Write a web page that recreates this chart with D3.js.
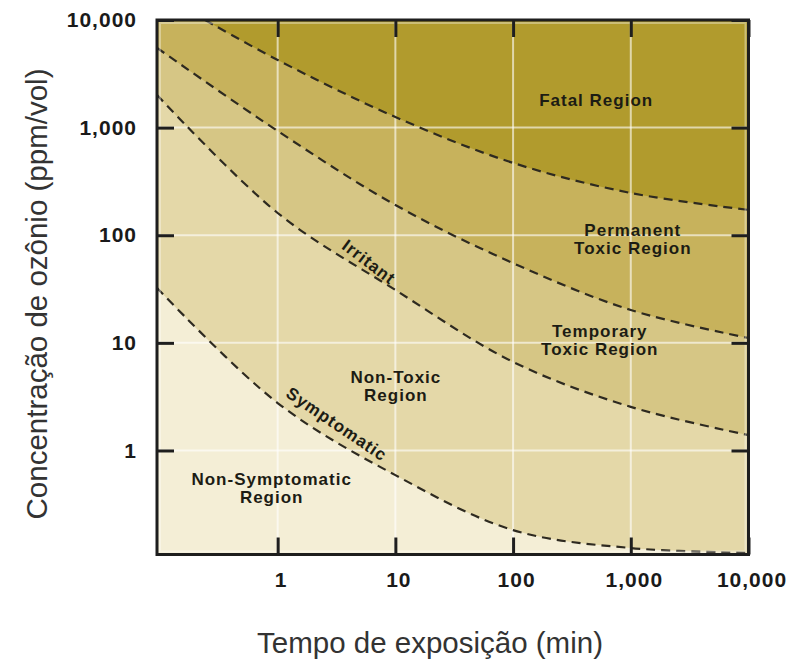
<!DOCTYPE html>
<html>
<head>
<meta charset="utf-8">
<script src="https://cdn.jsdelivr.net/npm/d3@7"></script>
<style>
  body { margin: 0; background: #fff; }
</style>
</head>
<body>
<svg id="chart" width="796" height="667"></svg>
<script>
// tick values (log decades)
const xTicks = [1, 10, 100, 1000, 10000];
const yTicks = [1, 10, 100, 1000, 10000];

// boundary curves: [minutes, ppm]
const fatalLine       = [[0.242, 10000], [1, 4250], [10, 1255], [100, 470], [1000, 247], [10000, 172]];
const permanentLine   = [[0.0944, 5510], [1, 930], [10, 191], [100, 55], [1000, 20.2], [10000, 11.1]];
const irritantLine    = [[0.0944, 2010], [1, 161], [10, 31], [100, 6.65], [1000, 2.54], [10000, 1.39]];
const symptomaticLine = [[0.0944, 32.4], [1, 2.76], [10, 0.59], [100, 0.182], [1000, 0.124], [10000, 0.112]];

// region names and where they sit (minutes, ppm)
const regionLabels = [
  { lines: ["Fatal Region"], t: 508, c: 1590 },
  { lines: ["Permanent", "Toxic Region"], t: 1040, c: 98 },
  { lines: ["Temporary", "Toxic Region"], t: 545, c: 11.4 },
  { lines: ["Non-Toxic", "Region"], t: 10.1, c: 4.24 },
  { lines: ["Non-Symptomatic", "Region"], t: 0.89, c: 0.477 }
];
const curveLabels = [
  { text: "Irritant", t: 5.96, c: 56.5, angle: 37 },
  { text: "Symptomatic", t: 3.18, c: 1.76, angle: 34 }
];

// fatal -> non symptomatic
const colors = ["#b19b2d", "#c7b25c", "#d6c685", "#e4d8a8", "#f4eed6"];

const svg = d3.select("#chart");

const x = d3.scaleLog().domain([0.0944, 10000]).range([157, 748.5]);
const y = d3.scaleLog().domain([0.108, 10000]).range([554.5, 20]);
const [x0, x1] = x.domain();
const [y0, y1] = y.domain();
const pLeft = x(x0), pRight = x(x1), pTop = y(y1), pBottom = y(y0);

svg.append("defs").append("clipPath").attr("id", "plot")
  .append("rect")
  .attr("x", pLeft).attr("y", pTop)
  .attr("width", pRight - pLeft).attr("height", pBottom - pTop);

const plot = svg.append("g").attr("clip-path", "url(#plot)");

plot.append("rect")
  .attr("x", pLeft).attr("y", pTop)
  .attr("width", pRight - pLeft).attr("height", pBottom - pTop)
  .attr("fill", colors[0]);

const line = d3.line()
  .x(d => x(d[0]))
  .y(d => y(d[1]))
  .curve(d3.curveCatmullRom.alpha(0.5));

const curves = [fatalLine, permanentLine, irritantLine, symptomaticLine];

// each area = everything under its curve
curves.forEach((c, i) => {
  let d = line(c);
  if (c[0][1] >= y1) d = `M${pLeft},${pTop}L` + d.slice(1);
  d += `L${pRight},${pBottom}L${pLeft},${pBottom}Z`;
  plot.append("path").attr("d", d).attr("fill", colors[i + 1]);
});

// white grid
plot.append("g")
  .selectAll("line")
  .data(xTicks)
  .join("line")
  .attr("x1", d => x(d)).attr("x2", d => x(d))
  .attr("y1", pTop).attr("y2", pBottom)
  .attr("stroke", "#fff").attr("stroke-opacity", 0.6).attr("stroke-width", 2);

plot.append("g")
  .selectAll("line")
  .data(yTicks)
  .join("line")
  .attr("y1", d => y(d)).attr("y2", d => y(d))
  .attr("x1", pLeft).attr("x2", pRight)
  .attr("stroke", "#fff").attr("stroke-opacity", 0.6).attr("stroke-width", 2);

// dashed boundaries
plot.append("g")
  .selectAll("path")
  .data(curves)
  .join("path")
  .attr("d", line)
  .attr("fill", "none")
  .attr("stroke", "#2e2a20")
  .attr("stroke-width", 2.2)
  .attr("stroke-dasharray", "9,6");

// light inner edge
svg.append("rect")
  .attr("x", pLeft + 3).attr("y", pTop + 3)
  .attr("width", pRight - pLeft - 6).attr("height", pBottom - pTop - 6)
  .attr("fill", "none")
  .attr("stroke", "#fff").attr("stroke-opacity", 0.35).attr("stroke-width", 2);

// region text
const labelFont = "'Liberation Sans', Arial, sans-serif";

svg.append("g")
  .selectAll("text")
  .data(regionLabels)
  .join("text")
  .attr("x", d => x(d.t))
  .attr("y", d => y(d.c))
  .attr("text-anchor", "middle")
  .attr("font-family", labelFont)
  .attr("font-weight", "bold")
  .attr("font-size", 17)
  .attr("letter-spacing", 1)
  .attr("fill", "#1c1c14")
  .selectAll("tspan")
  .data(d => d.lines.map(l => ({ l, t: d.t })))
  .join("tspan")
  .attr("x", d => x(d.t))
  .attr("dy", (d, i) => i === 0 ? 0 : 18)
  .text(d => d.l);

svg.append("g")
  .selectAll("text")
  .data(curveLabels)
  .join("text")
  .attr("transform", d => `translate(${x(d.t)},${y(d.c)}) rotate(${d.angle})`)
  .attr("text-anchor", "middle")
  .attr("dy", "0.35em")
  .attr("font-family", labelFont)
  .attr("font-weight", "bold")
  .attr("font-size", 17)
  .attr("letter-spacing", 1)
  .attr("fill", "#1c1c14")
  .text(d => d.text);

// frame
svg.append("rect")
  .attr("x", pLeft).attr("y", pTop)
  .attr("width", pRight - pLeft).attr("height", pBottom - pTop)
  .attr("fill", "none")
  .attr("stroke", "#1e1e1e")
  .attr("stroke-width", 3);

// axes, ticks point into the plot
const fmt = d3.format(",");
const tickLen = -17;

function styleAxis(g) {
  g.select(".domain").remove();
  g.selectAll(".tick line").attr("stroke", "#1e1e1e").attr("stroke-width", 3);
  g.selectAll(".tick text")
    .attr("fill", "#1a1a1a")
    .attr("font-family", labelFont)
    .attr("font-weight", "bold")
    .attr("font-size", 21)
    .attr("letter-spacing", 1);
}

svg.append("g")
  .attr("transform", `translate(${pLeft},0)`)
  .call(d3.axisLeft(y).tickValues(yTicks).tickFormat(fmt).tickSizeInner(tickLen).tickSizeOuter(0).tickPadding(20))
  .call(styleAxis);

svg.append("g")
  .attr("transform", `translate(0,${pBottom})`)
  .call(d3.axisBottom(x).tickValues(xTicks).tickFormat(fmt).tickSizeInner(tickLen).tickSizeOuter(0).tickPadding(18))
  .call(styleAxis)
  .selectAll(".tick text").attr("dx", 3);

svg.append("g")
  .attr("transform", `translate(${pRight},0)`)
  .call(d3.axisRight(y).tickValues(yTicks).tickFormat("").tickSizeInner(tickLen).tickSizeOuter(0))
  .call(styleAxis);

svg.append("g")
  .attr("transform", `translate(0,${pTop})`)
  .call(d3.axisTop(x).tickValues(xTicks).tickFormat("").tickSizeInner(tickLen).tickSizeOuter(0))
  .call(styleAxis);

// axis titles
svg.append("text")
  .attr("x", 430)
  .attr("y", 653)
  .attr("text-anchor", "middle")
  .attr("font-family", labelFont)
  .attr("font-size", 29.5)
  .attr("fill", "#333")
  .text("Tempo de exposição (min)");

svg.append("text")
  .attr("transform", "translate(47,294) rotate(-90)")
  .attr("text-anchor", "middle")
  .attr("font-family", labelFont)
  .attr("font-size", 29.5)
  .attr("fill", "#333")
  .text("Concentração de ozônio (ppm/vol)");
</script>
</body>
</html>
